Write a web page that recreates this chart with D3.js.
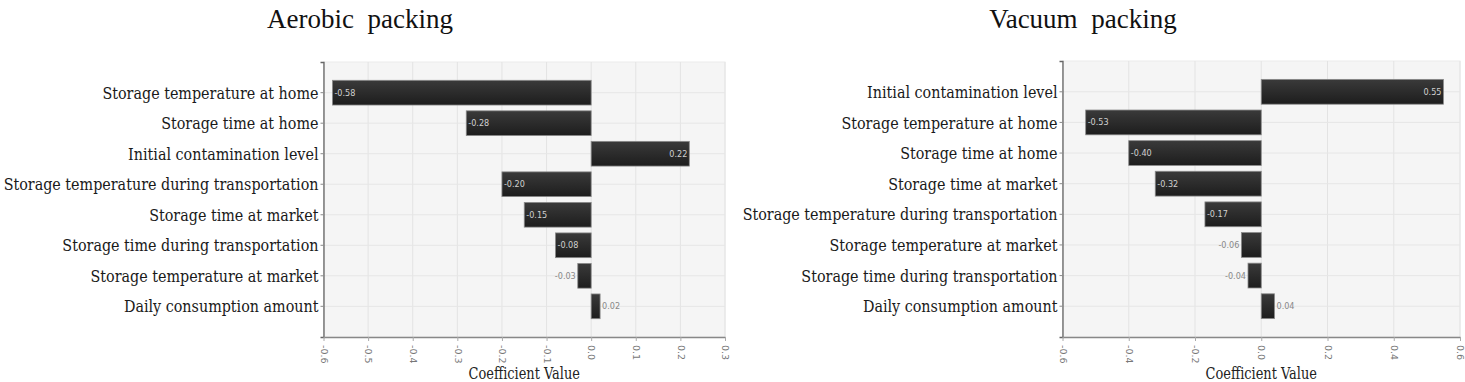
<!DOCTYPE html>
<html>
<head>
<meta charset="utf-8">
<script src="https://cdn.jsdelivr.net/npm/d3@7"></script>
<style>
  body { margin: 0; background: #fff; }
</style>
</head>
<body>
<svg id="chart" width="1465" height="382"></svg>
<script>
// Aerobic packing: factors and regression coefficients, top to bottom.
const aerobicFactors = [
    "Storage temperature at home",
    "Storage time at home",
    "Initial contamination level",
    "Storage temperature during transportation",
    "Storage time at market",
    "Storage time during transportation",
    "Storage temperature at market",
    "Daily consumption amount"
];
const aerobicValues = [-0.58, -0.28, 0.22, -0.20, -0.15, -0.08, -0.03, 0.02];
const aerobicTicks = [-0.6, -0.5, -0.4, -0.3, -0.2, -0.1, 0.0, 0.1, 0.2, 0.3];

// Vacuum packing
const vacuumFactors = [
    "Initial contamination level",
    "Storage temperature at home",
    "Storage time at home",
    "Storage time at market",
    "Storage temperature during transportation",
    "Storage temperature at market",
    "Storage time during transportation",
    "Daily consumption amount"
];
const vacuumValues = [0.55, -0.53, -0.40, -0.32, -0.17, -0.06, -0.04, 0.04];
const vacuumTicks = [-0.6, -0.4, -0.2, 0.0, 0.2, 0.4, 0.6];

const labelFont = '"DejaVu Serif Condensed", "Liberation Serif", serif';
// the labels in the source are narrow and tall, so squeeze them a bit
const labelSquash = 0.91;
const svg = d3.select("#chart");

// shared bar gradient
const defs = svg.append("defs");
const grad = defs.append("linearGradient")
    .attr("id", "barGrad")
    .attr("x1", 0).attr("y1", 0).attr("x2", 0).attr("y2", 1);
grad.append("stop").attr("offset", "0%").attr("stop-color", "#3a3a3a");
grad.append("stop").attr("offset", "100%").attr("stop-color", "#1d1d1d");

// drawPanel draws one tornado style bar chart.
function drawPanel(spec, factors, values, ticks) {
    const x = d3.scaleLinear()
        .domain([ticks[0], ticks[ticks.length - 1]])
        .range([spec.left, spec.right]);
    const y = d3.scaleBand()
        .domain(factors)
        .range([spec.top, spec.bottom])
        .paddingInner(0.19)
        .paddingOuter(0.6);

    const g = svg.append("g");

    // title
    g.append("text")
        .attr("x", spec.titleX)
        .attr("y", 28)
        .attr("text-anchor", "middle")
        .style("font-family", '"Liberation Serif", "Times New Roman", serif')
        .style("font-size", "27px")
        .style("word-spacing", "7px")
        .attr("fill", "#111")
        .text(spec.title);

    // plot background
    g.append("rect")
        .attr("x", spec.left)
        .attr("y", spec.top)
        .attr("width", spec.right - spec.left)
        .attr("height", spec.bottom - spec.top)
        .attr("fill", "#f5f5f5")
        .attr("stroke", "#ececec");

    // vertical grid
    g.selectAll(".vgrid")
        .data(ticks)
        .join("line")
        .attr("x1", d => x(d)).attr("x2", d => x(d))
        .attr("y1", spec.top).attr("y2", spec.bottom)
        .attr("stroke", "#e3e3e3");

    // horizontal grid at bar centres
    g.selectAll(".hgrid")
        .data(factors)
        .join("line")
        .attr("x1", spec.left).attr("x2", spec.right)
        .attr("y1", d => y(d) + y.bandwidth() / 2)
        .attr("y2", d => y(d) + y.bandwidth() / 2)
        .attr("stroke", "#e6e6e6");

    const rows = factors.map((f, i) => ({ f: f, v: values[i] }));

    // bars
    g.selectAll(".bar")
        .data(rows)
        .join("rect")
        .attr("x", d => Math.min(x(0), x(d.v)))
        .attr("y", d => y(d.f))
        .attr("width", d => Math.abs(x(d.v) - x(0)))
        .attr("height", y.bandwidth())
        .attr("fill", "url(#barGrad)")
        .attr("stroke", "#8a8a8a")
        .attr("stroke-width", 0.8);

    // value labels: inside the bar when there is room, otherwise outside
    g.selectAll(".val")
        .data(rows)
        .join("text")
        .style("font-family", '"DejaVu Sans Condensed", "DejaVu Sans", sans-serif')
        .style("font-size", "9px")
        .attr("y", d => y(d.f) + y.bandwidth() / 2 + 3)
        .each(function (d) {
            const w = Math.abs(x(d.v) - x(0));
            const inside = w > 28;
            const sel = d3.select(this);
            if (d.v < 0) {
                sel.attr("x", inside ? x(d.v) + 2 : x(d.v) - 2)
                    .attr("text-anchor", inside ? "start" : "end");
            } else {
                sel.attr("x", inside ? x(d.v) - 2 : x(d.v) + 2)
                    .attr("text-anchor", inside ? "end" : "start");
            }
            sel.attr("fill", inside ? "#d0d0d0" : "#888");
        })
        .text(d => d.v.toFixed(2));

    // y axis
    const yAxis = d3.axisLeft(y).tickSize(3).tickPadding(2);
    const gY = g.append("g")
        .attr("transform", `translate(${spec.left},0)`)
        .call(yAxis);
    gY.select(".domain").attr("stroke", "#666").attr("stroke-width", 1.3);
    gY.selectAll(".tick line").attr("stroke", "#888");
    gY.selectAll(".tick text")
        .style("font-family", labelFont)
        .style("font-size", "17.5px")
        .attr("fill", "#1a1a1a")
        .attr("dy", "0.35em")
        .attr("x", -5 / labelSquash)
        .attr("transform", `scale(${labelSquash},1)`);

    // x axis
    const xAxis = d3.axisBottom(x)
        .tickValues(ticks)
        .tickFormat(d => d3.format(".1f")(d).replace("−", "-"))
        .tickSize(4)
        .tickSizeOuter(0);
    const gX = g.append("g")
        .attr("transform", `translate(0,${spec.bottom})`)
        .call(xAxis);
    gX.select(".domain").attr("stroke", "#888").attr("stroke-width", 1.5);
    gX.selectAll(".tick line").attr("stroke", "#aaa");
    gX.selectAll(".tick text")
        .style("font-family", '"DejaVu Sans", sans-serif')
        .style("font-size", "9.5px")
        .attr("fill", "#777")
        .attr("text-anchor", "start")
        .attr("dy", "0.35em")
        .attr("transform", "translate(0,8) rotate(90)")
        .attr("x", 0)
        .attr("y", 0);

    // axis title
    const cx = (spec.left + spec.right) / 2;
    g.append("text")
        .attr("x", cx / 0.9)
        .attr("y", 379)
        .attr("transform", "scale(0.9,1)")
        .attr("text-anchor", "middle")
        .style("font-family", labelFont)
        .style("font-size", "16px")
        .attr("fill", "#222")
        .text("Coefficient Value");
}

drawPanel({ left: 323.5, right: 725, top: 62, bottom: 337, title: "Aerobic packing", titleX: 360 },
    aerobicFactors, aerobicValues, aerobicTicks);
drawPanel({ left: 1062.5, right: 1460, top: 61, bottom: 337, title: "Vacuum packing", titleX: 1083 },
    vacuumFactors, vacuumValues, vacuumTicks);
</script>
</body>
</html>
